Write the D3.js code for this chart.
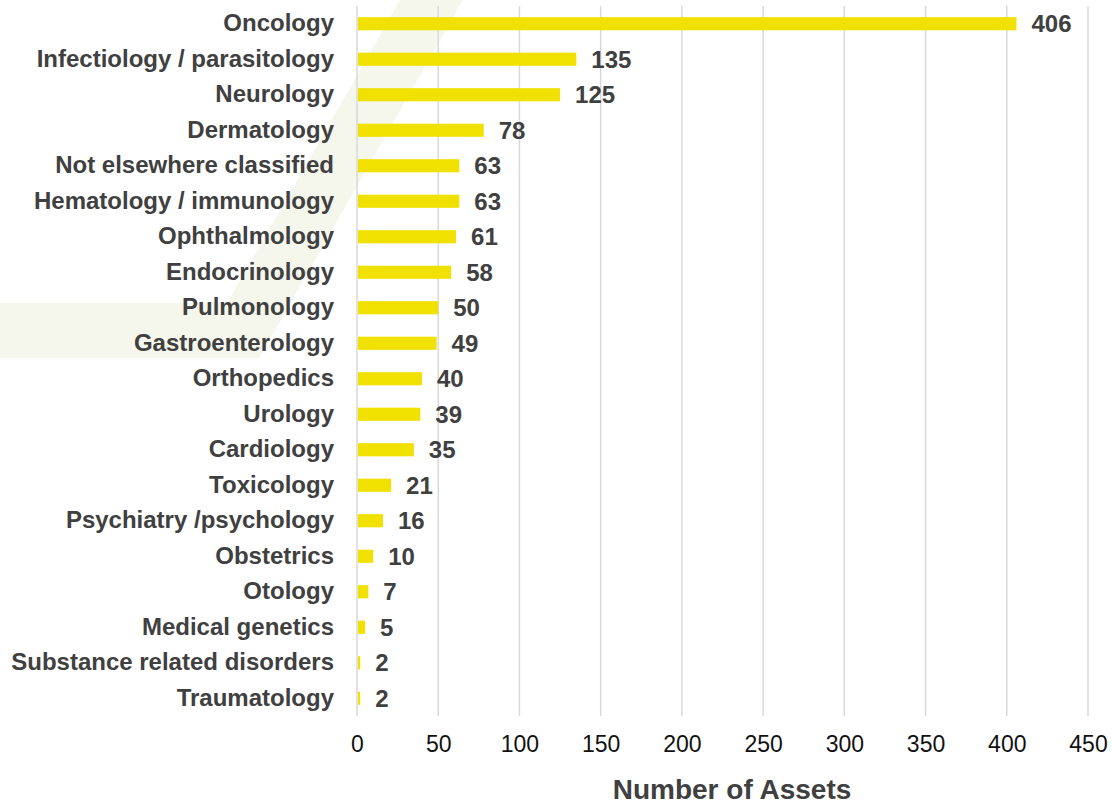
<!DOCTYPE html>
<html><head><meta charset="utf-8">
<script src="https://cdn.jsdelivr.net/npm/d3@7"></script>
<style>
html,body{margin:0;padding:0;background:#fff;}
svg{display:block;font-family:"Liberation Sans",Arial,sans-serif;}
</style></head>
<body>
<svg id="chart" width="1112" height="803"></svg>
<script>
const categories = ["Oncology","Infectiology / parasitology","Neurology","Dermatology","Not elsewhere classified","Hematology / immunology","Ophthalmology","Endocrinology","Pulmonology","Gastroenterology","Orthopedics","Urology","Cardiology","Toxicology","Psychiatry /psychology","Obstetrics","Otology","Medical genetics","Substance related disorders","Traumatology"];
const values = [406,135,125,78,63,63,61,58,50,49,40,39,35,21,16,10,7,5,2,2];
const xTicks = [0,50,100,150,200,250,300,350,400,450];
const axisTitle = "Number of Assets";

(function(){
const svg = d3.select("#chart");
const mL = 357, mR = 1088, mT = 6, mB = 716;

// faint background watermark
const wm = svg.append("g").attr("fill","#f5f6ec");
wm.append("path").attr("d", d3.line()([[400,0],[463,0],[259,358],[196,358]]) + "Z");
wm.append("path").attr("d", d3.line()([[0,303],[290,303],[259,358],[0,358]]) + "Z");

const x = d3.scaleLinear().domain([0,450]).range([mL,mR]);
const y = d3.scaleBand().domain(categories).range([mT,mB]).paddingInner(0.63).paddingOuter(0.315);

// gridlines
svg.append("g").selectAll("line").data(xTicks).join("line")
  .attr("x1",d=>x(d)).attr("x2",d=>x(d)).attr("y1",mT).attr("y2",mB)
  .attr("stroke","#d9d9d9").attr("stroke-width",1.5);

// bars
svg.append("g").selectAll("rect").data(values).join("rect")
  .attr("x",x(0)+1).attr("y",(d,i)=>y(categories[i]))
  .attr("width",d=>Math.max(0,x(d)-x(0)-1)).attr("height",y.bandwidth())
  .attr("fill","#f1e100");

// value labels
svg.append("g").selectAll("text").data(values).join("text")
  .attr("x",d=>x(d)+15).attr("y",(d,i)=>y(categories[i])+y.bandwidth()/2)
  .attr("dy","0.36em").attr("font-size",24).attr("font-weight","bold")
  .attr("fill","#404040").text(d=>d);

// category axis
const yAxis = d3.axisLeft(y).tickSize(0).tickPadding(23);
const gy = svg.append("g").attr("transform",`translate(${mL},0)`).call(yAxis);
gy.select(".domain").remove();
gy.selectAll("text").attr("font-size",24).attr("font-weight","bold").attr("fill","#404040")
  .attr("font-family","'Liberation Sans',Arial,sans-serif");

// x axis
const xAxis = d3.axisBottom(x).tickValues(xTicks).tickSize(0).tickPadding(20);
const gx = svg.append("g").attr("transform",`translate(0,${mB})`).call(xAxis);
gx.select(".domain").remove();
gx.selectAll("text").attr("font-size",23).attr("fill","#111")
  .attr("font-family","'Liberation Sans',Arial,sans-serif");

svg.append("text").attr("x",732).attr("y",799).attr("text-anchor","middle")
  .attr("font-size",28).attr("font-weight","bold").attr("fill","#404040").text(axisTitle);
})();
</script>
</body></html>
